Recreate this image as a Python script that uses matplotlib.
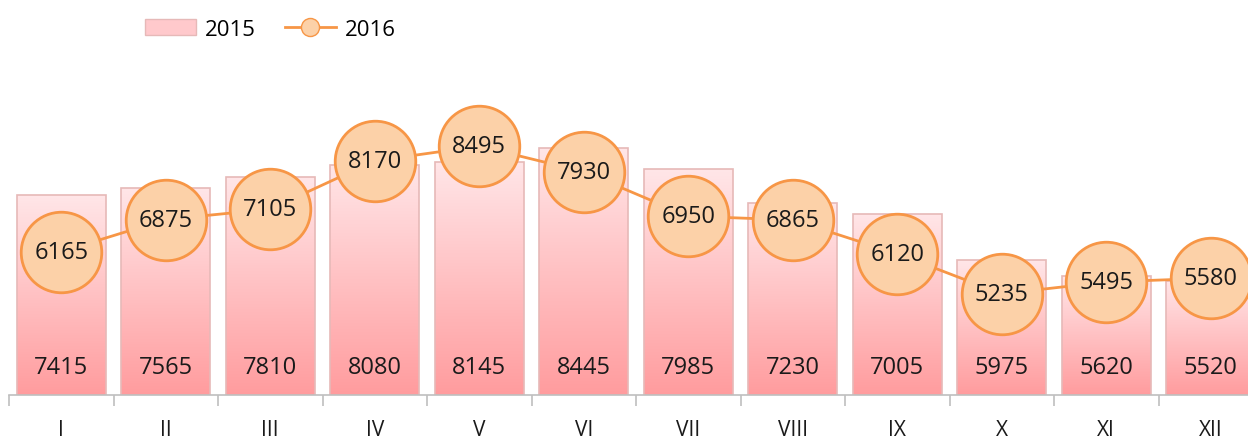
import matplotlib.pyplot as plt
import numpy as np
from matplotlib.lines import Line2D
from matplotlib.patches import Patch

months = ['I', 'II', 'III', 'IV', 'V', 'VI', 'VII', 'VIII', 'IX', 'X', 'XI', 'XII']
sales_2015 = [7415, 7565, 7810, 8080, 8145, 8445, 7985, 7230, 7005, 5975, 5620, 5520]
sales_2016 = [6165, 6875, 7105, 8170, 8495, 7930, 6950, 6865, 6120, 5235, 5495, 5580]

plt.rcParams['font.family'] = ['Open Sans', 'DejaVu Sans']

fig = plt.figure(figsize=(12.48, 4.39), dpi=100)
# plot area runs a bit past the right edge, as in the original
ax = fig.add_axes([9 / 1248, 43 / 439, 1254 / 1248, 317 / 439])
x = np.arange(len(months))
ymin, ymax = 3000, 10000

bars = ax.bar(x, sales_2015, width=0.85, color='none', edgecolor='#E6B9B8', linewidth=1.2, zorder=2)

# vertical gradient inside each bar
grad = np.linspace(0, 1, 256).reshape(-1, 1)
top_c = np.array([255, 230, 232]) / 255
bot_c = np.array([255, 156, 158]) / 255
img = top_c + (bot_c - top_c) * grad
img = img.reshape(256, 1, 3)
for b in bars:
    x0, w, h = b.get_x(), b.get_width(), b.get_height()
    im = ax.imshow(img, extent=[x0, x0 + w, ymin, h], aspect='auto', zorder=1, origin='upper')
    im.set_clip_path(b)

for xi, v in zip(x, sales_2015):
    ax.text(xi, 3610, str(v), ha='center', va='center', fontsize=17, color='#1a1a1a', zorder=5)

ax.plot(x, sales_2016, color='#F79646', linewidth=2, marker='o', markersize=58,
        markerfacecolor='#FCD1A8', markeredgecolor='#F79646', markeredgewidth=2, zorder=3)
for xi, v in zip(x, sales_2016):
    ax.text(xi, v, str(v), ha='center', va='center', fontsize=17, color='#1a1a1a', zorder=6)

ax.set_xlim(-0.5, len(months) - 0.5)
ax.set_ylim(ymin, ymax)
ax.set_yticks([])
for s in ['top', 'right', 'left']:
    ax.spines[s].set_visible(False)
ax.spines['bottom'].set_color('#BFBFBF')
ax.spines['bottom'].set_linewidth(1.2)
ax.set_xticks(x)
ax.set_xticklabels(months, fontsize=15, color='#1a1a1a')
ax.tick_params(axis='x', which='major', length=0, pad=17)
ax.set_xticks(np.arange(-0.5, len(months), 1), minor=True)
ax.tick_params(axis='x', which='minor', length=8, color='#BFBFBF', width=1.2)

handles = [
    Patch(facecolor='#FFC9CC', edgecolor='#E6B9B8'),
    Line2D([0], [0], color='#F79646', linewidth=2, marker='o', markersize=13,
           markerfacecolor='#FCD1A8', markeredgecolor='#F79646'),
]
fig.legend(handles, ['2015', '2016'], loc='upper left', bbox_to_anchor=(0.1, 1.0),
           ncol=2, frameon=False, fontsize=16, handlelength=2.3, columnspacing=1.3,
           handletextpad=0.4)

fig.savefig('out.png', dpi=100)
